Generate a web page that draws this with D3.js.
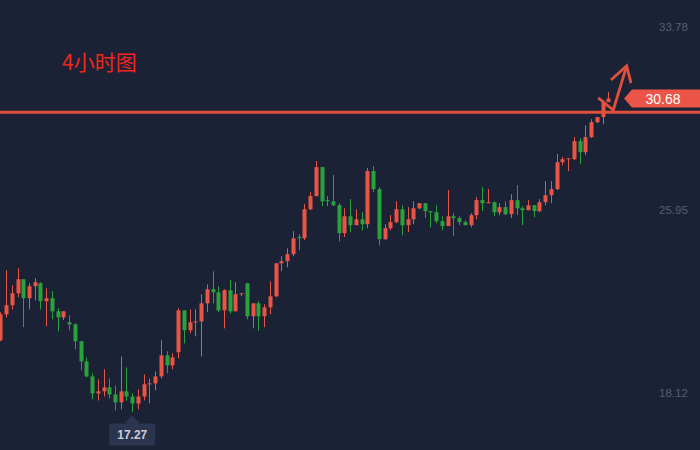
<!DOCTYPE html>
<html><head><meta charset="utf-8">
<script src="https://cdn.jsdelivr.net/npm/d3@7/dist/d3.min.js"></script>
<style>html,body{margin:0;padding:0;background:#1c2235;overflow:hidden}</style>
</head><body><svg id="c" width="700" height="450"></svg>
<script>
const opens  = [20.35,21.46,21.85,22.36,22.96,22.15,22.66,22.79,22.02,22.15,21.59,21.33,21.12,21.03,20.31,19.45,18.81,18.08,18.17,18.34,18.04,17.70,18.17,17.95,17.65,17.95,18.47,18.51,18.81,19.71,19.28,19.84,21.63,20.78,21.12,21.16,21.93,22.53,22.40,21.63,22.49,21.59,22.32,22.79,21.38,21.93,21.38,21.76,22.23,23.64,23.73,24.03,24.76,24.71,25.95,26.51,27.75,26.34,26.29,26.12,24.93,25.65,25.27,25.52,25.31,27.58,26.81,24.67,25.14,25.40,25.95,25.27,25.52,25.99,26.21,25.87,25.82,25.44,25.23,25.65,25.57,25.40,25.27,25.70,26.34,26.21,26.25,25.82,26.04,25.74,26.34,25.99,25.91,26.12,25.87,26.25,26.55,26.81,27.96,28.09,28.09,28.86,28.39,29.03,29.67,29.89,30.53];
const highs  = [21.55,23.34,22.70,23.43,22.96,22.79,23.00,22.83,22.57,22.45,21.72,21.59,21.42,21.08,20.31,19.62,18.94,18.68,19.11,18.72,18.42,19.66,19.19,18.08,18.25,18.89,18.72,19.02,20.35,19.88,19.79,21.72,21.63,21.67,21.67,22.32,22.74,23.30,22.66,22.53,22.92,22.83,22.36,22.79,21.93,22.02,21.89,22.87,23.64,23.94,24.28,25.01,24.88,26.17,26.68,28.01,27.75,26.51,27.41,26.21,25.99,26.38,25.95,25.82,27.71,27.79,26.89,25.31,25.70,26.29,26.12,26.04,26.29,26.21,26.21,25.87,26.12,25.65,26.77,25.78,25.65,25.48,25.78,26.47,26.89,26.81,26.29,26.21,26.29,26.59,26.98,26.08,26.34,26.12,26.38,27.15,27.15,28.31,28.18,28.13,29.03,28.99,29.54,29.80,29.89,30.62,30.96];
const lows   = [20.31,21.33,21.67,22.19,20.91,21.67,22.06,21.67,20.95,21.25,20.73,21.21,20.78,19.97,19.07,18.77,17.83,17.78,17.95,17.87,17.36,17.40,17.78,17.27,17.40,17.78,17.65,18.21,18.72,18.94,19.11,19.58,20.22,20.65,20.52,19.66,21.55,21.93,21.55,20.86,21.50,21.59,22.23,21.25,20.86,20.75,20.91,21.46,22.19,23.30,23.47,23.94,24.20,24.63,25.91,26.51,26.08,26.08,26.08,24.58,24.76,24.97,25.27,25.05,25.14,26.68,24.41,24.63,25.05,25.35,24.84,24.97,25.31,25.95,25.57,25.18,25.35,25.05,25.23,24.80,25.27,25.27,25.18,25.52,25.87,26.21,25.65,25.70,25.70,25.57,25.70,25.27,25.91,25.61,25.82,26.12,26.21,26.77,27.83,27.58,28.05,27.88,28.26,28.99,29.63,29.59,30.53];
const closes = [21.46,21.85,22.36,22.96,22.15,22.66,22.83,22.02,22.15,21.59,21.33,21.59,21.03,20.31,19.45,18.81,18.08,18.17,18.34,18.04,17.70,18.17,17.95,17.65,17.95,18.47,18.51,18.81,19.71,19.28,19.62,21.63,20.78,21.12,21.16,21.93,22.53,22.40,21.63,22.49,21.59,22.32,22.36,21.38,21.93,21.38,21.76,22.23,23.64,23.73,24.03,24.71,24.71,25.95,26.51,27.75,26.29,26.29,26.12,24.93,25.65,25.27,25.52,25.31,27.58,26.81,24.67,25.14,25.40,25.95,25.27,25.52,25.99,26.21,25.87,25.82,25.44,25.23,25.65,25.57,25.40,25.27,25.70,26.34,26.21,26.25,25.82,26.04,25.74,26.34,25.99,25.91,26.12,25.87,26.25,26.55,26.81,27.96,28.09,28.13,28.86,28.39,29.03,29.67,29.89,30.53,30.68];
const tickValues = [33.78, 25.95, 18.12];
const titleText = "4小时图";
const lastPrice = 30.68;
const lowPrice = 17.27;
const resistanceLevel = 30.10;
// hand-drawn arrow annotation in (candle index, price) units
const arrowPath = [[104.25,30.71],[106.87,30.19],[109.2,32.08]];
const arrowHeadL = [[106.47,31.47],[109.2,32.08],[109.96,31.34]];

const W = 700, H = 450;
const svg = d3.select("#c");
svg.append("rect").attr("width",W).attr("height",H).attr("fill","#1c2235");

const n = closes.length;
const x = d3.scaleLinear().domain([0, n-1]).range([0.3, 608.3]);
const y = d3.scaleLinear().domain([18.12, 33.78]).range([392.5, 26]);
const UP = "#ea5445", DOWN = "#2aa23c", LINE = "#e0503d";

// axis labels
const axis = d3.axisRight(y).tickValues(tickValues).tickSize(0).tickPadding(0).tickFormat(d3.format(".2f"));
const ag = svg.append("g").attr("transform","translate(659,0)").call(axis);
ag.select(".domain").remove();
ag.selectAll("text").attr("fill","#555e73").attr("font-family","Liberation Sans, Arial, sans-serif").attr("font-size","11.5px").attr("dy","0.35em");

// candles
const data = d3.range(n).map(i => ({i, o:opens[i], h:highs[i], l:lows[i], c:closes[i]}));
const g = svg.append("g");
const cg = g.selectAll("g.k").data(data).join("g").attr("class","k");
cg.append("line")
  .attr("x1", d => Math.round(x(d.i)) + 0.5).attr("x2", d => Math.round(x(d.i)) + 0.5)
  .attr("y1", d => y(d.h)).attr("y2", d => y(d.l))
  .attr("stroke", d => d.c >= d.o ? UP : DOWN).attr("stroke-width", 1);
cg.append("rect")
  .attr("x", d => Math.round(x(d.i)) - 1.5).attr("width", 4)
  .attr("y", d => y(Math.max(d.o, d.c)))
  .attr("height", d => Math.max(1, Math.abs(y(d.o) - y(d.c))))
  .attr("fill", d => d.c >= d.o ? UP : DOWN);

// resistance line
svg.append("line").attr("x1",0).attr("x2",W).attr("y1",y(resistanceLevel)).attr("y2",y(resistanceLevel))
  .attr("stroke",LINE).attr("stroke-width",3);

// arrow
const lineGen = d3.line().x(d => x(d[0])).y(d => y(d[1]));
svg.append("path").attr("d", lineGen(arrowPath)).attr("fill","none").attr("stroke",LINE)
  .attr("stroke-width",2.8).attr("stroke-linejoin","miter");
svg.append("path").attr("d", lineGen(arrowHeadL)).attr("fill","none").attr("stroke",LINE)
  .attr("stroke-width",2.8).attr("stroke-linejoin","miter");

// last price label
const ly = y(lastPrice);
svg.append("path").attr("d", `M624,${ly} L632,${ly-9} L700,${ly-9} L700,${ly+9} L632,${ly+9} Z`).attr("fill","#ea5548");
svg.append("text").attr("x",663).attr("y",ly).attr("dy","0.36em").attr("text-anchor","middle")
  .attr("fill","#ffffff").attr("font-family","Liberation Sans, Arial, sans-serif").attr("font-size","14px").text(lastPrice.toFixed(2));

// low label
const lowIdx = d3.minIndex(lows);
const lx = x(lowIdx), lyy = y(lowPrice);
svg.append("path").attr("d", `M${lx-8},${lyy+11} L${lx},${lyy+3} L${lx+8},${lyy+11} Z`).attr("fill","#2c3550");
svg.append("rect").attr("x",lx-23).attr("y",lyy+11).attr("width",46).attr("height",22).attr("rx",2).attr("fill","#2c3550");
svg.append("text").attr("x",lx).attr("y",lyy+22).attr("dy","0.36em").attr("text-anchor","middle")
  .attr("fill","#c9cdd6").attr("font-weight","bold").attr("font-family","Liberation Sans, Arial, sans-serif").attr("font-size","12px").text(lowPrice.toFixed(2));

// title
svg.append("text").attr("x",62).attr("y",70).attr("fill","#f0261c")
  .attr("font-family","'Noto Sans CJK SC', sans-serif").attr("font-size","21px").text(titleText);
</script></body></html>
